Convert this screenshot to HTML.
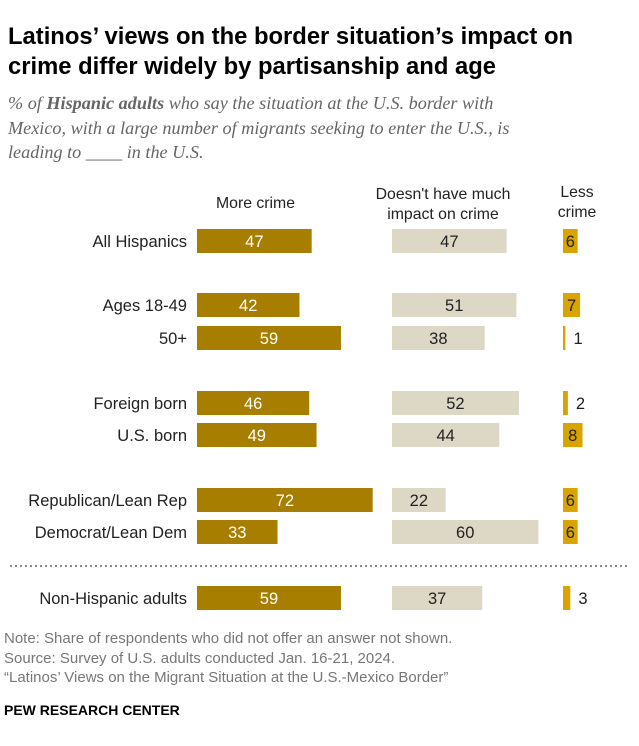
<!DOCTYPE html>
<html><head><meta charset="utf-8"><style>
body{margin:0;background:#fff;font-family:"Liberation Sans",sans-serif;}
#c{position:relative;width:639px;height:746px;overflow:hidden}
.t{position:absolute;white-space:nowrap}
</style></head><body>
<div id="c">
<div class="t" style="left:8px;top:22px;font-size:23.8px;font-weight:bold;line-height:30px;color:#000">Latinos’ views on the border situation’s impact on<br>crime differ widely by partisanship and age</div>
<div class="t" style="left:8px;top:91px;font-size:18.2px;font-style:italic;line-height:24.5px;color:#666;font-family:'Liberation Serif',serif">% of <b>Hispanic adults</b> who say the situation at the U.S. border with<br>Mexico, with a large number of migrants seeking to enter the U.S., is<br>leading to ____ in the U.S.</div>
<div class="t" style="left:192px;width:127px;text-align:center;top:195px;font-size:15.8px;color:#222">More crime</div>
<div class="t" style="left:363px;width:160px;text-align:center;top:185px;font-size:15.8px;line-height:20px;color:#222">Doesn't have much<br>impact on crime</div>
<div class="t" style="left:547px;width:60px;text-align:center;top:183px;font-size:15.8px;line-height:20px;color:#222">Less<br>crime</div>
<svg id="s" width="639" height="746" style="position:absolute;left:0;top:0">
<line x1="10" y1="566" x2="628" y2="566" stroke="#888" stroke-width="2" stroke-dasharray="2,3"/>
</svg>
<div class="t" style="left:4px;top:629px;font-size:15px;line-height:19.5px;color:#777">Note: Share of respondents who did not offer an answer not shown.<br>Source: Survey of U.S. adults conducted Jan. 16-21, 2024.<br>“Latinos’ Views on the Migrant Situation at the U.S.-Mexico Border”</div>
<div class="t" style="left:4px;top:702px;font-size:14px;font-weight:bold;color:#000">PEW RESEARCH CENTER</div>
</div>
<script>
const categories=["All Hispanics","Ages 18-49","50+","Foreign born","U.S. born","Republican/Lean Rep","Democrat/Lean Dem","Non-Hispanic adults"];
const moreCrime=[47,42,59,46,49,72,33,59];
const noImpact=[47,51,38,52,44,22,60,37];
const lessCrime=[6,7,1,2,8,6,6,3];
const rowY=[241,305,338,403,435,500,532,598];
const s=document.getElementById('s'),c=document.getElementById('c');
const NS='http://www.w3.org/2000/svg';
const k=2.44;
function x(v){return v*k;}
function rect(x0,yc,w,fill,name){const r=document.createElementNS(NS,'rect');r.setAttribute('x',x0);r.setAttribute('y',yc-12);r.setAttribute('width',Math.max(w,2.4));r.setAttribute('height',24);r.setAttribute('fill',fill);


s.appendChild(r);}
function txt(tx,yc,str,anchor,fill,name){const t=document.createElementNS(NS,'text');t.setAttribute('x',tx);t.setAttribute('y',yc+6);t.setAttribute('text-anchor',anchor);t.setAttribute('font-size','16.5');t.setAttribute('fill',fill);t.setAttribute('font-family','Liberation Sans, sans-serif');t.textContent=str;


s.appendChild(t);}
categories.forEach((cat,i)=>{const y=rowY[i];
txt(187,y,cat,'end','#222','row-label');
const w1=x(moreCrime[i]);rect(197,y,w1,'#a87e00','bar-more-crime');txt(197+w1/2,y,moreCrime[i],'middle','#fff','value-more-crime');
const w2=x(noImpact[i]);rect(392,y,w2,'#ddd8c5','bar-no-impact');txt(392+w2/2,y,noImpact[i],'middle','#222','value-no-impact');
const w3=x(lessCrime[i]);rect(563,y,w3,'#d9a300','bar-less-crime');
if(w3>12)txt(563+w3/2,y,lessCrime[i],'middle','#222','value-less-crime');else txt(563+w3+8,y,lessCrime[i],'start','#222','value-less-crime');
});
</script>
</body></html>
